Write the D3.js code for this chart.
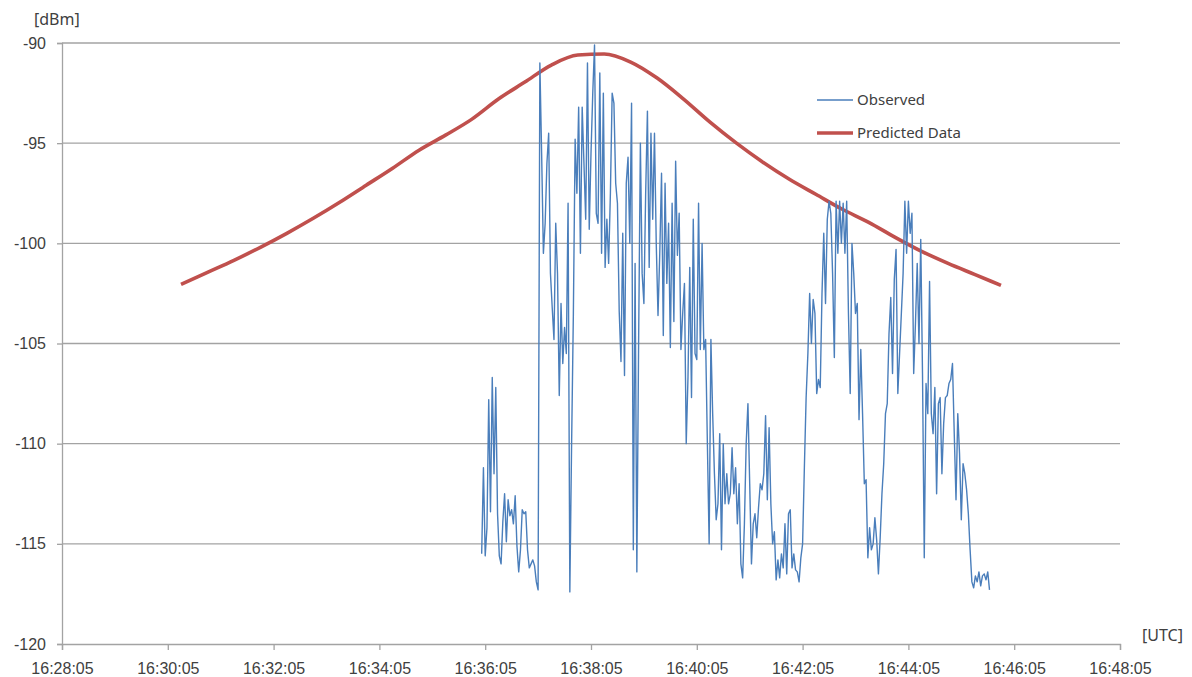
<!doctype html>
<html lang="en">
<head>
  <meta charset="utf-8">
  <title>Observed vs Predicted - D3</title>
  <style>
    body { margin: 0; background: #fff; }
    svg { display: block; font-family: "Noto Sans", "DejaVu Sans", sans-serif; }
    .axis text { fill: #404040; font-size: 16px; }
  </style>
</head>
<body>
  <svg></svg>
  <script src="https://cdn.jsdelivr.net/npm/d3@7"></script>
  <script>
    // data
    var xTickLabels = ["16:28:05", "16:30:05", "16:32:05", "16:34:05", "16:36:05",
      "16:38:05", "16:40:05", "16:42:05", "16:44:05", "16:46:05", "16:48:05"];
    var yTickValues = [-120, -115, -110, -105, -100, -95, -90];

    // observed signal, one sample every 2 s from 16:36:01
    var observedStart = "16:36:01";
    var observedStep = 2;
    var observed = [
      -115.5, -111.2, -115.6, -114.2, -107.8, -113.4, -106.7, -111.5, -107.2, -113.5,
      -115.6, -116.0, -113.9, -112.5, -114.9, -112.8, -113.6, -113.3, -114.0, -112.6,
      -115.1, -116.4, -115.3, -113.3, -113.5, -113.4, -115.3, -116.2, -116.0, -115.8,
      -116.1, -116.9, -117.3, -91.0,
      -95.5, -100.5, -99.0, -96.0, -94.5, -101.5, -103.2, -104.8, -99.0, -101.5,
      -107.6, -103.0, -106.0, -104.2, -105.5, -98.0, -117.4, -110.0, -103.5, -94.8,
      -97.5, -93.2, -100.5, -93.2, -96.0, -98.8, -91.0, -99.3, -95.5, -92.5,
      -90.1,
      -98.5, -99.0, -91.5, -100.5, -92.5, -101.2, -98.8, -101.0, -97.5, -92.5,
      -93.0, -97.0, -98.0, -103.4, -105.9, -99.5, -106.6, -97.0, -95.7, -100.0,
      -93.0, -115.3, -101.0, -116.4, -105.0, -95.0, -101.5, -103.0, -97.5, -93.4,
      -101.2, -94.5, -98.8, -94.5, -100.0, -103.6, -100.5, -96.5, -104.6, -97.0,
      -102.0, -99.0, -105.2, -98.0, -103.9, -95.9, -100.6, -98.5, -105.3, -103.5,
      -102.0, -110.0, -106.7, -101.2, -107.7, -98.8, -105.5, -105.8, -98.0, -105.3,
      -100.0, -105.3, -104.8, -110.0, -115.0, -104.8, -108.5, -111.5, -113.8, -113.0,
      -109.5, -115.3, -110.0,
      -113.0, -111.5, -113.0, -112.5, -110.2, -112.5, -111.2, -114.0, -112.0, -116.0,
      -116.7, -114.0, -110.0, -108.0, -112.0, -116.0, -114.0, -113.5, -114.7, -113.2,
      -112.0, -112.3, -111.5, -108.6, -112.8, -109.2, -113.0, -115.0, -114.4, -116.8,
      -115.8, -116.7, -115.5, -116.2, -114.0, -116.5, -113.5, -113.3, -116.2, -115.5,
      -116.3, -116.4, -116.9, -115.7, -115.0, -111.2, -107.7, -105.5, -102.5, -105.0,
      -102.8, -103.5, -107.5, -106.8, -107.2, -102.5, -99.5, -103.0, -98.8, -97.9,
      -98.5, -101.5, -105.7, -97.9, -100.5, -97.9, -100.0, -98.0, -100.5, -97.9,
      -103.5,
      -107.5, -100.0, -101.5, -103.5, -103.0, -108.8, -105.3, -108.5, -112.0, -111.8,
      -115.7, -114.2, -115.3, -115.0, -113.7, -114.8, -116.5, -114.7, -112.5, -111.0,
      -108.5, -108.0, -104.5, -102.7, -106.5, -101.8, -100.3, -107.5, -105.5, -103.5,
      -101.5, -97.9, -100.5, -97.9, -99.5, -98.5, -106.5, -104.0, -101.0, -105.0,
      -99.8, -106.5, -115.7, -107.0, -108.5, -101.9, -108.5, -109.5, -107.2, -112.5,
      -108.0, -107.7, -111.5, -109.0, -107.7, -107.6, -107.0, -106.8, -106.0, -109.5,
      -112.8, -108.5, -110.5, -113.8, -111.0, -111.5, -112.3, -113.5, -115.3, -116.9,
      -117.2, -116.6, -116.9, -116.4, -117.1, -116.6, -116.5, -116.8, -116.4, -117.3
    ];

    // predicted signal, one value every 30 s from 16:30:20
    var predictedStart = "16:30:20";
    var predictedStep = 30;
    var predicted = [
      -102.05, -101.45, -100.85, -100.2, -99.5, -98.75, -97.95, -97.1, -96.25, -95.35,
      -94.6, -93.8, -92.8, -91.95, -91.1, -90.6, -90.55, -90.95, -91.75, -92.8,
      -93.95, -95.0, -95.95, -96.8, -97.55, -98.3, -98.95, -99.7, -100.4, -101.0,
      -101.55, -102.1
    ];

    // 画布
    var width = 1192;
    var height = 677;
    var margin = { left: 62, right: 72, top: 43, bottom: 33 };
    var plotW = width - margin.left - margin.right;
    var plotH = height - margin.top - margin.bottom;

    var svg = d3.select('svg')
      .attr('width', width)
      .attr('height', height);

    var parseTime = d3.timeParse('%H:%M:%S');
    var fmtTime = d3.timeFormat('%H:%M:%S');

    var xTicks = xTickLabels.map(parseTime);
    var xScale = d3.scaleTime()
      .domain([xTicks[0], xTicks[xTicks.length - 1]])
      .range([0, plotW]);
    var yScale = d3.scaleLinear()
      .domain([-120, -90])
      .range([plotH, 0]);

    var g = svg.append('g')
      .attr('transform', 'translate(' + margin.left + ',' + margin.top + ')');

    // 网格线
    g.append('g').selectAll('line')
      .data(yTickValues.filter(function (v) { return v !== -120; }))
      .enter().append('line')
      .attr('x1', 0).attr('x2', plotW)
      .attr('y1', function (v) { return yScale(v); })
      .attr('y2', function (v) { return yScale(v); })
      .attr('stroke', '#a3a3a3')
      .attr('stroke-width', 1.3);

    // 坐标轴 (plain hyphen for negatives, like the original)
    var yAxis = d3.axisLeft(yScale).tickValues(yTickValues)
      .tickFormat(function (v) { return String(v); })
      .tickSize(5).tickPadding(11);
    var yG = g.append('g').attr('class', 'axis').call(yAxis);
    var xAxis = d3.axisBottom(xScale).tickValues(xTicks).tickFormat(fmtTime)
      .tickSize(6).tickPadding(13);
    var xG = g.append('g').attr('class', 'axis')
      .attr('transform', 'translate(0,' + plotH + ')')
      .call(xAxis);
    [yG, xG].forEach(function (a) {
      a.selectAll('path').attr('stroke', '#a3a3a3').attr('stroke-width', 1.3);
      a.selectAll('line').attr('stroke', '#a3a3a3').attr('stroke-width', 1.3);
      a.selectAll('text').attr('font-family', null).attr('font-size', null);
    });

    // 单位
    svg.append('text').attr('x', 34).attr('y', 25)
      .attr('fill', '#404040').attr('font-size', 16).text('[dBm]');
    svg.append('text').attr('x', 1142).attr('y', 641)
      .attr('fill', '#404040').attr('font-size', 16).text('[UTC]');

    // 折线
    var obsPoints = observed.map(function (v, i) {
      return { t: d3.timeSecond.offset(parseTime(observedStart), i * observedStep), v: v };
    });
    var predPoints = predicted.map(function (v, i) {
      return { t: d3.timeSecond.offset(parseTime(predictedStart), i * predictedStep), v: v };
    });

    g.append('path')
      .datum(predPoints)
      .attr('fill', 'none')
      .attr('stroke', '#c0504d')
      .attr('stroke-width', 3.6)
      .attr('stroke-linejoin', 'round')
      .attr('d', d3.line().curve(d3.curveMonotoneX)
        .x(function (d) { return xScale(d.t); })
        .y(function (d) { return yScale(d.v); }));

    g.append('path')
      .datum(obsPoints)
      .attr('fill', 'none')
      .attr('stroke', '#4a7ebb')
      .attr('stroke-width', 1.4)
      .attr('stroke-linejoin', 'round')
      .attr('d', d3.line()
        .x(function (d) { return xScale(d.t); })
        .y(function (d) { return yScale(d.v); }));

    // 图例
    var legend = svg.append('g').attr('transform', 'translate(817,100)');
    var items = [
      { name: 'Observed', color: '#4a7ebb', w: 1.4 },
      { name: 'Predicted Data', color: '#c0504d', w: 3.6 }
    ];
    items.forEach(function (d, i) {
      var row = legend.append('g').attr('transform', 'translate(0,' + (i * 33) + ')');
      row.append('line').attr('x1', 0).attr('x2', 36).attr('y1', 0).attr('y2', 0)
        .attr('stroke', d.color).attr('stroke-width', d.w);
      row.append('text').attr('x', 40).attr('y', 5)
        .attr('fill', '#404040').attr('font-size', 15).text(d.name);
    });
  </script>
</body>
</html>
